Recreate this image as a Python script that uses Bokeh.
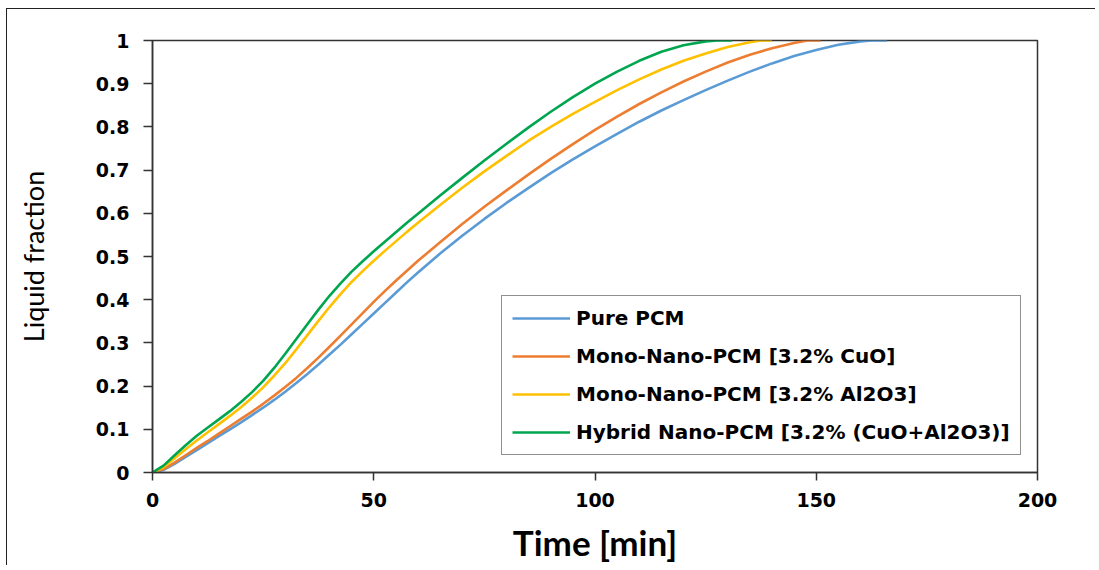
from bokeh.plotting import figure
from bokeh.models import Legend, LegendItem, Range1d, FixedTicker
from bokeh.embed import file_html
from bokeh.resources import INLINE

# ---- data ----
t_pure = [0, 2.5, 5, 7.5, 10, 12.5, 15, 17.5, 20, 22.5, 25, 27.5, 30, 32.5, 35, 37.5, 40,
          42.5, 45, 47.5, 50, 52.5, 55, 57.5, 60, 65, 70, 75, 80, 85, 90, 95, 100, 105,
          110, 115, 120, 125, 130, 135, 140, 145, 150, 155, 160, 162.5, 166]
y_pure = [0, 0.006, 0.020, 0.036, 0.052, 0.068, 0.084, 0.100, 0.116, 0.133, 0.150, 0.168,
          0.187, 0.207, 0.228, 0.250, 0.273, 0.296, 0.320, 0.344, 0.368, 0.392, 0.416,
          0.440, 0.463, 0.507, 0.548, 0.587, 0.624, 0.659, 0.693, 0.725, 0.755, 0.784,
          0.812, 0.838, 0.862, 0.885, 0.907, 0.928, 0.947, 0.964, 0.978, 0.990, 0.998,
          1.0, 1.0]

t_cuo = [0, 2.5, 5, 7.5, 10, 12.5, 15, 17.5, 20, 22.5, 25, 27.5, 30, 32.5, 35, 37.5, 40,
         42.5, 45, 47.5, 50, 52.5, 55, 57.5, 60, 65, 70, 75, 80, 85, 90, 95, 100, 105,
         110, 115, 120, 125, 130, 135, 140, 145, 148, 151]
y_cuo = [0, 0.008, 0.023, 0.040, 0.057, 0.073, 0.090, 0.107, 0.124, 0.141, 0.159, 0.178,
         0.198, 0.219, 0.242, 0.266, 0.291, 0.317, 0.343, 0.369, 0.395, 0.420, 0.444,
         0.467, 0.490, 0.533, 0.575, 0.615, 0.653, 0.690, 0.726, 0.760, 0.793, 0.824,
         0.853, 0.880, 0.905, 0.928, 0.949, 0.967, 0.982, 0.994, 1.0, 1.0]

t_al = [0, 2.5, 5, 7.5, 10, 12.5, 15, 17.5, 20, 22.5, 25, 27.5, 30, 32.5, 35, 37.5, 40,
        42.5, 45, 47.5, 50, 52.5, 55, 57.5, 60, 65, 70, 75, 80, 85, 90, 95, 100, 105,
        110, 115, 120, 125, 130, 135, 137.5, 140]
y_al = [0, 0.012, 0.033, 0.054, 0.074, 0.093, 0.112, 0.131, 0.151, 0.173, 0.197, 0.224,
        0.253, 0.285, 0.318, 0.351, 0.383, 0.413, 0.441, 0.466, 0.490, 0.513, 0.535,
        0.557, 0.578, 0.619, 0.659, 0.697, 0.733, 0.768, 0.800, 0.830, 0.858, 0.885,
        0.910, 0.933, 0.953, 0.970, 0.985, 0.996, 1.0, 1.0]

t_hyb = [0, 2.5, 5, 7.5, 10, 12.5, 15, 17.5, 20, 22.5, 25, 27.5, 30, 32.5, 35, 37.5, 40,
         42.5, 45, 47.5, 50, 52.5, 55, 57.5, 60, 65, 70, 75, 80, 85, 90, 95, 100, 105,
         110, 115, 120, 125, 127.5, 131]
y_hyb = [0, 0.016, 0.040, 0.063, 0.085, 0.104, 0.123, 0.142, 0.163, 0.186, 0.212, 0.242,
         0.275, 0.309, 0.343, 0.377, 0.409, 0.438, 0.465, 0.489, 0.512, 0.534, 0.556,
         0.578, 0.599, 0.641, 0.682, 0.722, 0.761, 0.799, 0.835, 0.869, 0.900, 0.928,
         0.953, 0.974, 0.989, 0.998, 1.0, 1.0]

labels = ["Pure PCM", "Mono-Nano-PCM [3.2% CuO]", "Mono-Nano-PCM [3.2% Al2O3]",
          "Hybrid Nano-PCM [3.2% (CuO+Al2O3)]"]
colors = ["#5B9BD5", "#ED7D31", "#FFC000", "#00A64F"]
x_ticks = [0, 50, 100, 150, 200]
y_ticks = [0, 0.1, 0.2, 0.3, 0.4, 0.5, 0.6, 0.7, 0.8, 0.9, 1.0]
y_title = "Liquid fraction"
x_title = "Time [min]"

p = figure(width=1088, height=550, output_backend="svg", toolbar_location=None,
           x_range=Range1d(0, 200), y_range=Range1d(0, 1),
           min_border_left=145, min_border_right=58, min_border_top=31, min_border_bottom=87)
p.frame_width = 885
p.frame_height = 432
p.styles = {"margin-left": "6px", "margin-top": "8px",
            "border-left": "1.5px solid #222", "border-top": "1.5px solid #222"}

p.xgrid.visible = False
p.ygrid.visible = False
p.outline_line_color = "#333333"
p.outline_line_width = 1.5
p.background_fill_color = "white"
p.border_fill_color = "white"

series = [(t_pure, y_pure), (t_cuo, y_cuo), (t_al, y_al), (t_hyb, y_hyb)]
renderers = []
for (tx, ty), c in zip(series, colors):
    r = p.line(tx, ty, line_color=c, line_width=2.6, line_join="round")
    renderers.append(r)

for ax in (p.xaxis[0], p.yaxis[0]):
    ax.axis_line_color = "#333333"
    ax.axis_line_width = 1.5
    ax.major_tick_line_color = "#333333"
    ax.major_tick_line_width = 1.5
    ax.major_tick_in = 0
    ax.minor_tick_line_color = None
    ax.major_label_text_font = "DejaVu Sans"
    ax.major_label_text_font_style = "bold"
    ax.major_label_text_font_size = "19px"
    ax.major_label_text_color = "black"
    ax.axis_label_text_color = "black"

p.xaxis.ticker = FixedTicker(ticks=x_ticks)
p.yaxis.ticker = FixedTicker(ticks=y_ticks)
p.yaxis.major_label_overrides = {0: "0", 1.0: "1"}
p.xaxis.major_tick_out = 8
p.yaxis.major_tick_out = 9
p.xaxis.major_label_standoff = 12
p.yaxis.major_label_standoff = 14

p.xaxis.axis_label = x_title
p.xaxis.axis_label_text_font = "Lato"
p.xaxis.axis_label_text_font_style = "bold"
p.xaxis.axis_label_text_font_size = "35px"
p.xaxis.axis_label_standoff = 11

p.yaxis.axis_label = y_title
p.yaxis.axis_label_text_font = "Lato"
p.yaxis.axis_label_text_font_style = "normal"
p.yaxis.axis_label_text_font_size = "27px"
p.yaxis.axis_label_standoff = 43

items = [LegendItem(label=l, renderers=[r]) for l, r in zip(labels, renderers)]
legend = Legend(items=items, location=(349, 17))
legend.border_line_color = "#222222"
legend.border_line_width = 1.5
legend.background_fill_alpha = 1
legend.label_text_font = "DejaVu Sans"
legend.label_text_font_style = "bold"
legend.label_text_font_size = "20px"
legend.label_text_color = "black"
legend.glyph_width = 58
legend.glyph_height = 20
legend.label_height = 20
legend.spacing = 14
legend.padding = 10
legend.margin = 0
legend.label_standoff = 6
p.add_layout(legend, "center")

open("out.html", "w").write(file_html(p, INLINE))
